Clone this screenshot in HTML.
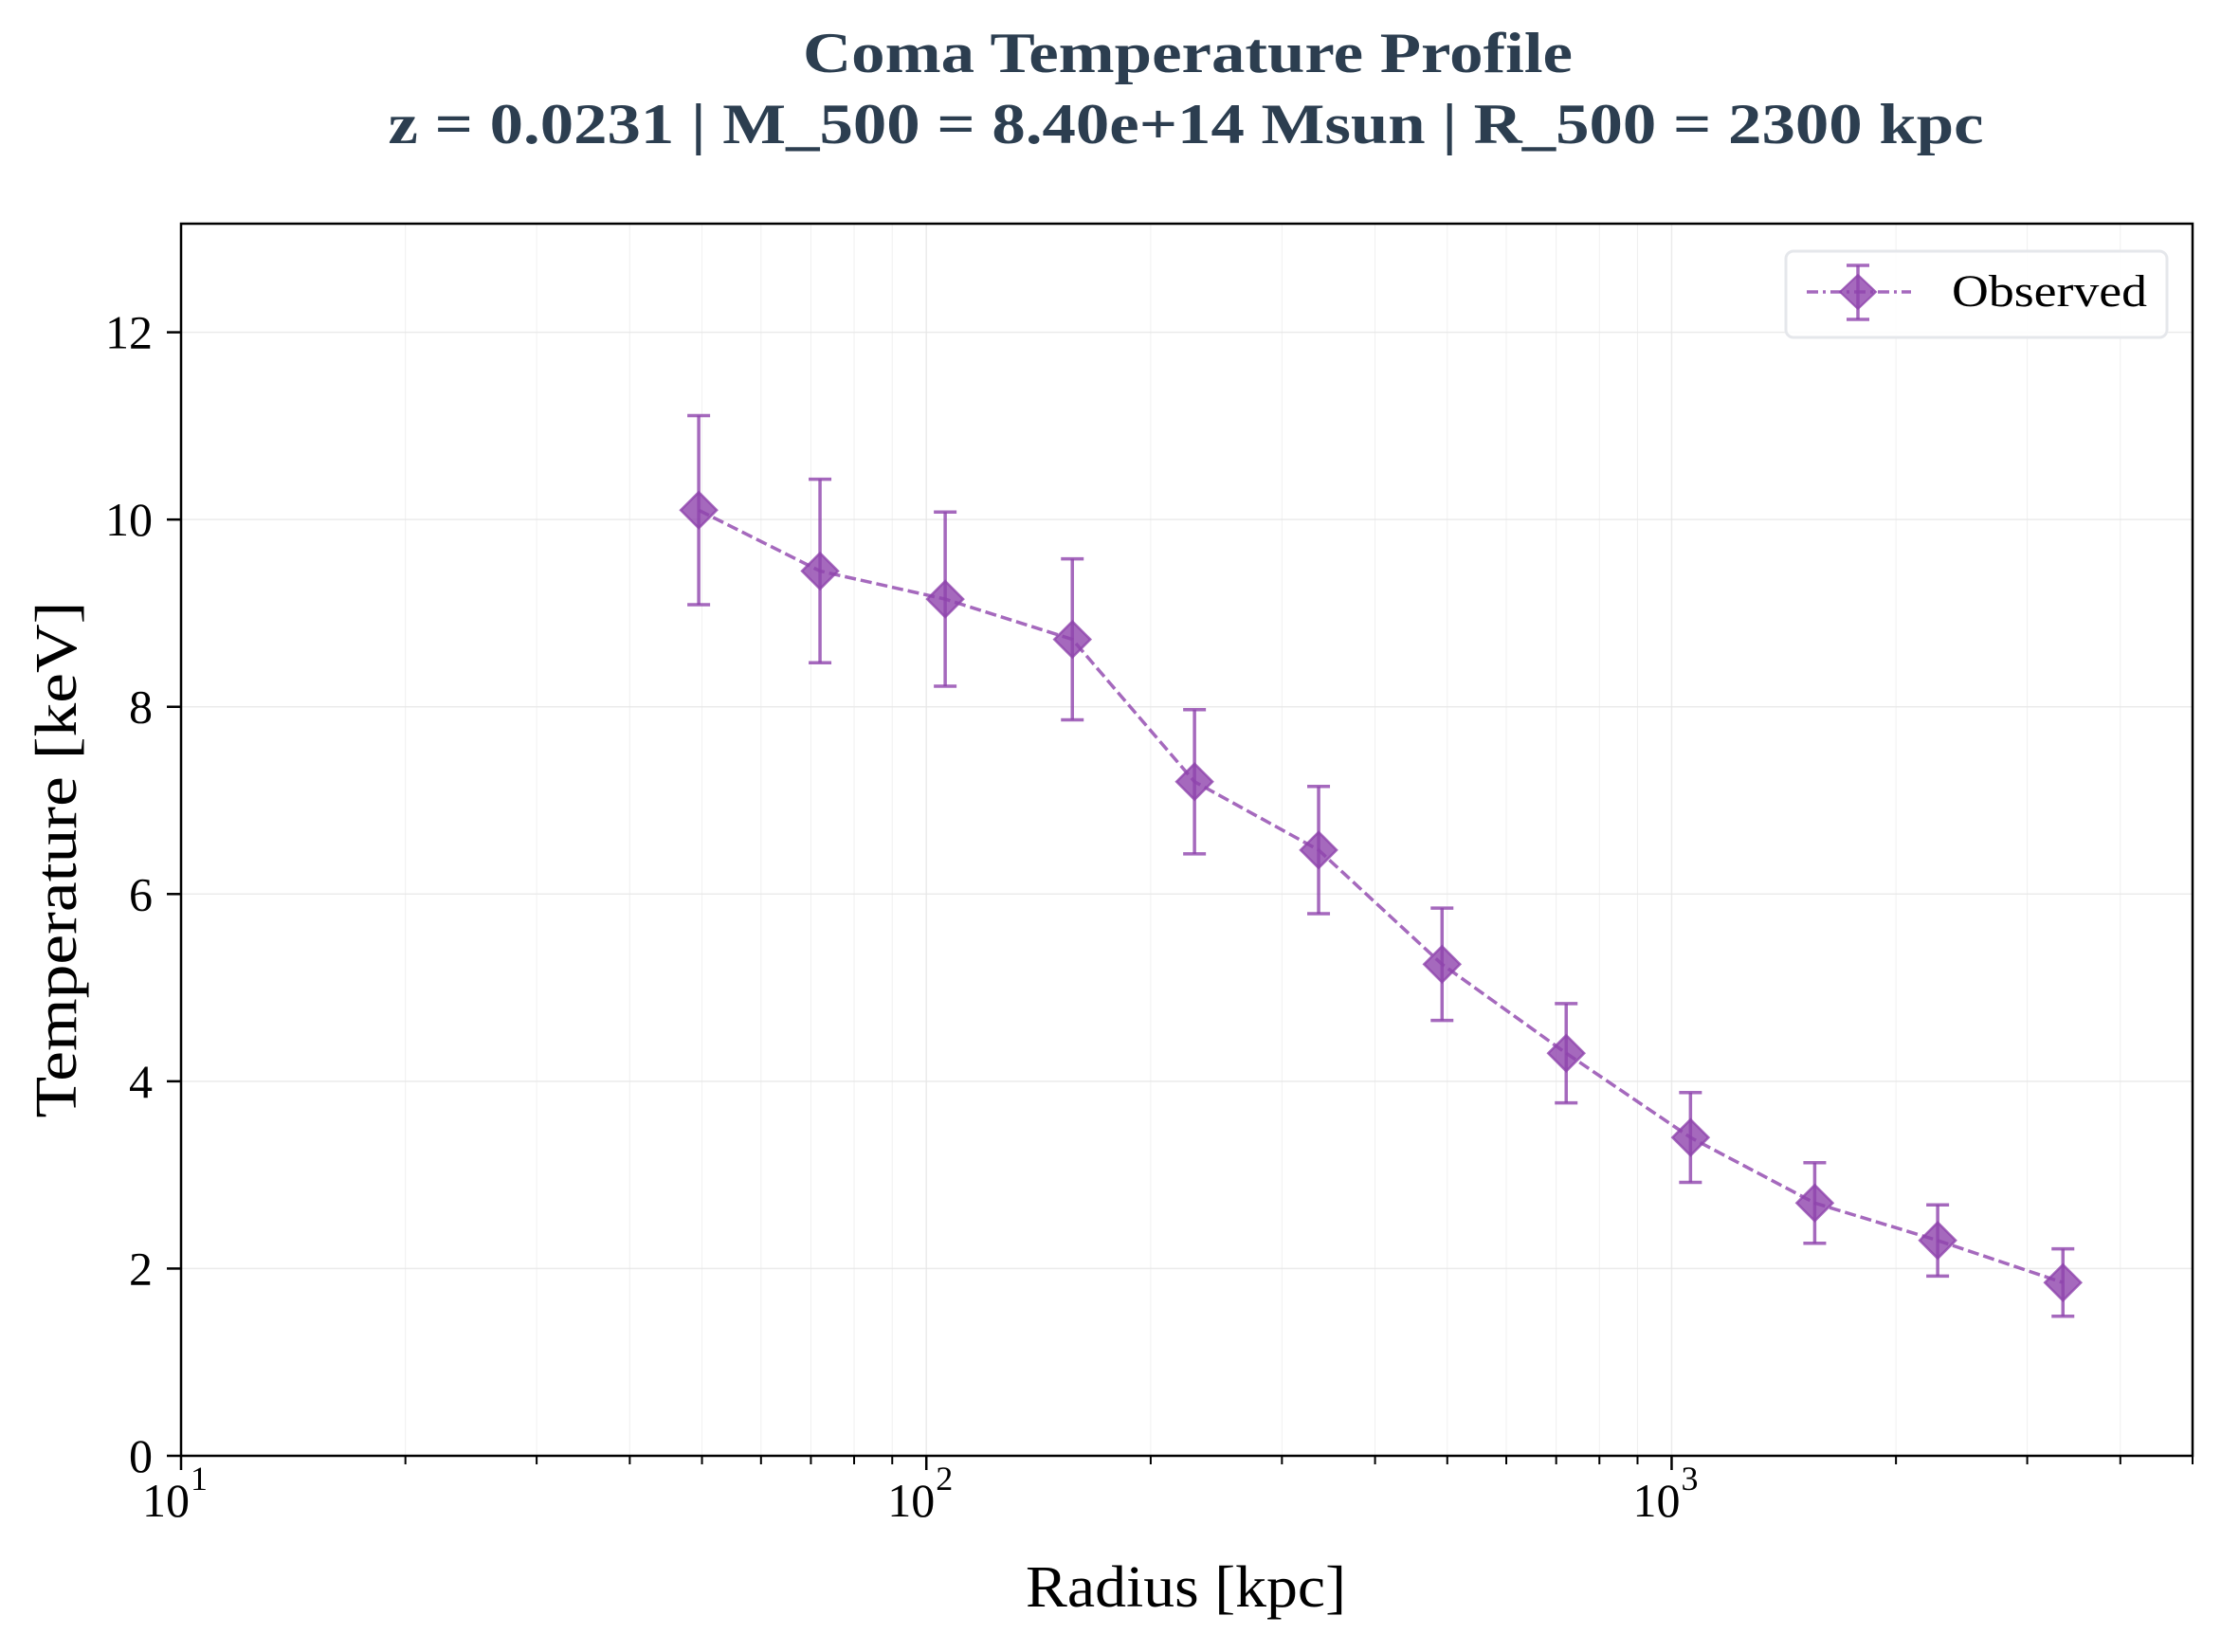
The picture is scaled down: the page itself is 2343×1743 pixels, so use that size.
<!DOCTYPE html>
<html><head><meta charset="utf-8"><style>
html,body{margin:0;padding:0;background:#fff;}
svg, svg text{font-family:"Times New Roman","Liberation Serif",Times,serif;}
</style></head><body>
<svg id="chart" width="2343" height="1738" viewBox="0 0 2343 1738">
<rect width="2343" height="1738" fill="#fff"/>
<g fill="#2c3e50" font-weight="bold" font-size="60" text-anchor="middle">
<text x="1253" y="76" textLength="812" lengthAdjust="spacingAndGlyphs">Coma Temperature Profile</text>
<text x="1251" y="151" textLength="1683" lengthAdjust="spacingAndGlyphs">z = 0.0231 | M_500 = 8.40e+14 Msun | R_500 = 2300 kpc</text>
</g>
<g id="grid"></g>
<g id="plot"></g>
<rect x="191" y="236" width="2122" height="1300" fill="none" stroke="#000" stroke-width="2.5"/>
<g id="ticks"></g>
<text x="1251" y="1695" font-size="62" text-anchor="middle" textLength="338" lengthAdjust="spacingAndGlyphs">Radius [kpc]</text>
<text transform="translate(80,907) rotate(-90)" font-size="62" text-anchor="middle" textLength="545" lengthAdjust="spacingAndGlyphs">Temperature [keV]</text>
<g>
<rect x="1884" y="265" width="402" height="91" rx="8" fill="#fff" fill-opacity="0.9" stroke="#e5e7eb" stroke-width="3"/>
<line x1="1906" y1="308" x2="2016" y2="308" stroke="#8e44ad" stroke-opacity="0.8" stroke-width="3.5" stroke-dasharray="12,5,3,5"/>
<line x1="1960" y1="280" x2="1960" y2="337" stroke="#8e44ad" stroke-opacity="0.8" stroke-width="3.5"/>
<line x1="1948" y1="280" x2="1972" y2="280" stroke="#8e44ad" stroke-opacity="0.8" stroke-width="3.5"/>
<line x1="1948" y1="337" x2="1972" y2="337" stroke="#8e44ad" stroke-opacity="0.8" stroke-width="3.5"/>
<path d="M1960,290 L1979,308 L1960,326 L1941,308 Z" fill="#8e44ad" fill-opacity="0.8" stroke="#8e44ad" stroke-opacity="0.8" stroke-width="2"/>
<text x="2059" y="323" font-size="48" textLength="206" lengthAdjust="spacingAndGlyphs">Observed</text>
</g>
</svg>
<script>
const radii = [49.5, 72, 106, 157, 229, 336, 492, 722, 1060, 1556, 2275, 3350];
const temps = [10.1, 9.45, 9.15, 8.72, 7.2, 6.47, 5.25, 4.3, 3.4, 2.7, 2.3, 1.85];
const errs = [1.01, 0.98, 0.93, 0.86, 0.77, 0.68, 0.6, 0.53, 0.48, 0.43, 0.38, 0.36];
const yTicks = [0, 2, 4, 6, 8, 10, 12];
const xDecades = [10, 100, 1000];
const xDecadeLabels = ["1", "2", "3"];

const L=191,R=2313,T=236,B=1536,XMIN=10,XMAX=5000,YMIN=0,YMAX=13.16;
const NS="http://www.w3.org/2000/svg";
function sx(v){return L+(Math.log10(v)-Math.log10(XMIN))/(Math.log10(XMAX)-Math.log10(XMIN))*(R-L);}
function sy(v){return B-(v-YMIN)/(YMAX-YMIN)*(B-T);}
function mk(tag,attrs,parent){const e=document.createElementNS(NS,tag);for(const k in attrs)e.setAttribute(k,attrs[k]);parent.appendChild(e);return e;}
const grid=document.getElementById('grid'),plot=document.getElementById('plot'),ticks=document.getElementById('ticks');
for(let d=10;d<=1000;d*=10){for(let m=1;m<10;m++){const v=d*m;if(v>XMAX)break;const x=sx(v);
 const g=mk('line',{x1:x,x2:x,y1:T,y2:B,stroke:'#e6e6e6','stroke-width':m===1?1.5:1,'stroke-opacity':m===1?0.8:0.6},grid);
 
 
 const t=mk('line',{x1:x,x2:x,y1:B,y2:B+(m===1?15:9),stroke:'#000','stroke-width':m===1?2.5:2},ticks);
 
 
}}
xDecades.forEach((v,i)=>{const x=sx(v);
 const tx=mk('text',{x:x+9,y:1600,'font-size':50,'text-anchor':'end'},ticks);tx.textContent='10';
 
 
 const sup=mk('text',{x:x+10,y:1572,'font-size':36},ticks);sup.textContent=xDecadeLabels[i];
 
 
});
yTicks.forEach(v=>{const y=sy(v);
 const g=mk('line',{x1:L,x2:R,y1:y,y2:y,stroke:'#e6e6e6','stroke-width':1.5,'stroke-opacity':0.8},grid);
 
 
 const t=mk('line',{x1:L-15,x2:L,y1:y,y2:y,stroke:'#000','stroke-width':2.5},ticks);
 
 
 const tx=mk('text',{x:L-30,y:y+17,'font-size':50,'text-anchor':'end'},ticks);tx.textContent=v;
 
 
});
const pts=radii.map((r,i)=>sx(r)+','+sy(temps[i])).join(' ');
const line=mk('polyline',{points:pts,fill:'none',stroke:'#8e44ad','stroke-opacity':0.8,'stroke-width':3.5,'stroke-dasharray':'12,5'},plot);


radii.forEach((r,i)=>{const x=sx(r),y=sy(temps[i]),y1=sy(temps[i]+errs[i]),y2=sy(temps[i]-errs[i]);
 const g=mk('g',{stroke:'#8e44ad','stroke-opacity':0.8,'stroke-width':3.5},plot);
 
 
 mk('line',{x1:x,x2:x,y1:y1,y2:y2},g);
 mk('line',{x1:x-12,x2:x+12,y1:y1,y2:y1},g);
 mk('line',{x1:x-12,x2:x+12,y1:y2,y2:y2},g);
 mk('path',{d:`M${x},${y-19} L${x+19},${y} L${x},${y+19} L${x-19},${y} Z`,fill:'#8e44ad','fill-opacity':0.8,'stroke-width':2.5},g);
});
</script>
</body></html>
